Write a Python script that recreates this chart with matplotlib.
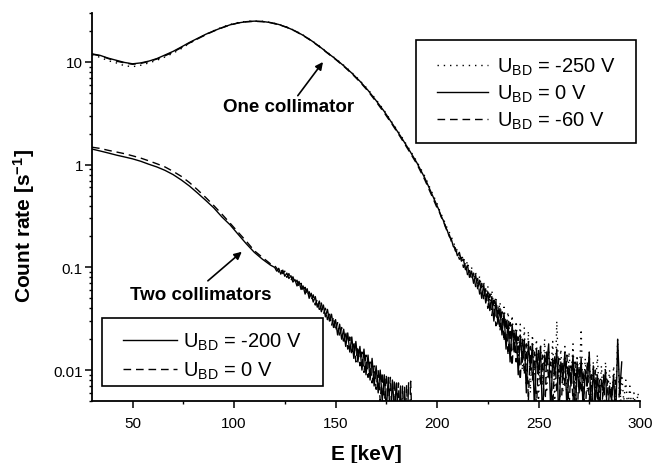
import matplotlib
matplotlib.use('Agg')
import matplotlib.pyplot as plt
import numpy as np
from matplotlib.patches import Rectangle
from matplotlib.ticker import FixedLocator, LogLocator, MultipleLocator, NullFormatter

plt.rcParams['font.family'] = ['Liberation Sans', 'DejaVu Sans']
plt.rcParams['mathtext.fontset'] = 'custom'
plt.rcParams['mathtext.rm'] = 'Liberation Sans'
plt.rcParams['mathtext.it'] = 'Liberation Sans:italic'
plt.rcParams['mathtext.bf'] = 'Liberation Sans:bold'

# energy channels (keV): coarse on the smooth part, 1 keV in the noisy tail
e_body_one = np.arange(30, 199, 4)
e_tail_one = np.arange(200, 301)
e_body_two = np.arange(30, 119, 4)
e_tail_two = np.arange(120, 189)

# ---- one collimator ----
one_0V_body = [12.0, 11.6, 10.9, 10.4, 9.9, 9.6, 9.8, 10.2, 10.8, 11.7,
               12.7, 14.0, 15.5, 17.0, 18.6, 20.1, 21.6, 23.0, 24.0, 24.7,
               25.0, 24.8, 24.2, 23.2, 21.8, 20.1, 18.2, 16.2, 14.2, 12.3,
               10.7, 9.2, 7.8, 6.5, 5.3, 4.2, 3.3, 2.5, 1.9, 1.42,
               1.05, 0.74, 0.49]
one_0V_tail = [0.40, 0.36, 0.31, 0.29, 0.25, 0.23, 0.20, 0.19, 0.16, 0.155,
               0.13, 0.14, 0.115, 0.12, 0.095, 0.105, 0.08, 0.092, 0.07, 0.085,
               0.062, 0.075, 0.05, 0.068, 0.045, 0.058, 0.038, 0.052, 0.03, 0.047,
               0.028, 0.04, 0.022, 0.036, 0.016, 0.03, 0.012, 0.028, 0.015, 0.024,
               0.009, 0.022, 0.012, 0.02, 0.006, 0.019, 0.01, 0.018, 0.004, 0.016,
               0.009, 0.017, 0.003, 0.014, 0.011, 0.018, 0.004, 0.013, 0.009, 0.016,
               0.003, 0.012, 0.008, 0.015, 0.004, 0.011, 0.007, 0.014, 0.003, 0.012,
               0.006, 0.013, 0.004, 0.01, 0.007, 0.015, 0.003, 0.011, 0.005, 0.009,
               0.004, 0.008, 0.006, 0.01, 0.003, 0.007, 0.005, 0.009, 0.003, 0.02,
               0.006, 0.012]

one_60V_body = [11.9, 11.5, 10.8, 10.2, 9.8, 9.5, 9.7, 10.1, 10.7, 11.5,
                12.5, 13.8, 15.3, 16.8, 18.4, 20.0, 21.5, 22.9, 24.0, 24.6,
                24.9, 24.7, 24.1, 23.1, 21.7, 20.0, 18.1, 16.1, 14.1, 12.2,
                10.6, 9.1, 7.7, 6.4, 5.2, 4.1, 3.2, 2.45, 1.85, 1.38,
                1.02, 0.71, 0.47]
one_60V_tail = [0.38, 0.35, 0.32, 0.28, 0.26, 0.22, 0.21, 0.18, 0.17, 0.145,
                0.14, 0.12, 0.125, 0.1, 0.11, 0.085, 0.095, 0.075, 0.088, 0.065,
                0.078, 0.055, 0.07, 0.048, 0.062, 0.04, 0.055, 0.034, 0.048, 0.027,
                0.042, 0.024, 0.037, 0.019, 0.032, 0.014, 0.029, 0.011, 0.025, 0.012,
                0.021, 0.008, 0.02, 0.009, 0.018, 0.005, 0.017, 0.008, 0.015, 0.004,
                0.016, 0.007, 0.014, 0.003, 0.015, 0.008, 0.012, 0.004, 0.014, 0.006,
                0.013, 0.003, 0.012, 0.007, 0.014, 0.004, 0.011, 0.005, 0.012, 0.003,
                0.011, 0.006, 0.01, 0.003, 0.012, 0.005, 0.009, 0.003, 0.01, 0.005,
                0.008, 0.003, 0.009, 0.004, 0.008, 0.003, 0.007, 0.004, 0.008, 0.003,
                0.007, 0.004]

one_250V_body = [11.7, 11.1, 10.3, 9.8, 9.2, 9.0, 9.3, 9.8, 10.4, 11.2,
                 12.2, 13.5, 15.2, 16.8, 18.5, 20.2, 21.8, 23.2, 24.2, 24.9,
                 25.1, 24.9, 24.3, 23.3, 21.9, 20.2, 18.3, 16.3, 14.3, 12.4,
                 10.8, 9.3, 7.9, 6.6, 5.4, 4.3, 3.35, 2.55, 1.95, 1.45,
                 1.08, 0.77, 0.51]
one_250V_tail = [0.42, 0.37, 0.33, 0.3, 0.27, 0.24, 0.22, 0.2, 0.175, 0.16,
                 0.145, 0.13, 0.12, 0.13, 0.1, 0.115, 0.09, 0.1, 0.078, 0.09,
                 0.068, 0.082, 0.06, 0.072, 0.052, 0.066, 0.045, 0.06, 0.04, 0.052,
                 0.034, 0.046, 0.03, 0.041, 0.025, 0.037, 0.02, 0.034, 0.016, 0.03,
                 0.013, 0.028, 0.01, 0.026, 0.007, 0.024, 0.006, 0.022, 0.009, 0.02,
                 0.005, 0.018, 0.007, 0.02, 0.006, 0.016, 0.009, 0.019, 0.005, 0.03,
                 0.008, 0.016, 0.006, 0.017, 0.005, 0.015, 0.008, 0.018, 0.005, 0.014,
                 0.007, 0.025, 0.005, 0.013, 0.006, 0.015, 0.004, 0.012, 0.006, 0.014,
                 0.005, 0.011, 0.004, 0.012, 0.006, 0.01, 0.004, 0.011, 0.005, 0.02,
                 0.004, 0.009, 0.005, 0.008, 0.004, 0.007, 0.004, 0.006, 0.004, 0.006,
                 0.004]

# ---- two collimators ----
two_200V_body = [1.42, 1.36, 1.30, 1.24, 1.19, 1.14, 1.08, 1.01, 0.95, 0.88,
                 0.80, 0.71, 0.62, 0.53, 0.45, 0.38, 0.31, 0.26, 0.21, 0.17,
                 0.14, 0.12, 0.105]
two_200V_tail = [0.100, 0.092, 0.098, 0.086, 0.094, 0.082, 0.088, 0.078, 0.083, 0.072,
                 0.076, 0.066, 0.073, 0.061, 0.066, 0.055, 0.062, 0.05, 0.056, 0.046,
                 0.052, 0.041, 0.047, 0.037, 0.043, 0.033, 0.039, 0.03, 0.035, 0.026,
                 0.031, 0.022, 0.028, 0.02, 0.025, 0.017, 0.023, 0.015, 0.021, 0.013,
                 0.019, 0.012, 0.017, 0.01, 0.016, 0.009, 0.014, 0.008, 0.013, 0.007,
                 0.011, 0.006, 0.01, 0.005, 0.009, 0.004, 0.0085, 0.003, 0.008, 0.004,
                 0.0075, 0.003, 0.007, 0.002, 0.0068, 0.002, 0.0075]

two_0V_body = [1.48, 1.44, 1.38, 1.33, 1.28, 1.22, 1.16, 1.09, 1.02, 0.95,
               0.86, 0.77, 0.67, 0.57, 0.48, 0.40, 0.33, 0.27, 0.22, 0.18,
               0.145, 0.125, 0.108]
two_0V_tail = [0.104, 0.098, 0.09, 0.097, 0.087, 0.092, 0.08, 0.087, 0.075, 0.081,
               0.07, 0.075, 0.064, 0.07, 0.058, 0.064, 0.053, 0.058, 0.048, 0.054,
               0.043, 0.049, 0.039, 0.045, 0.035, 0.04, 0.031, 0.036, 0.027, 0.033,
               0.024, 0.029, 0.021, 0.026, 0.018, 0.024, 0.016, 0.021, 0.014, 0.019,
               0.012, 0.017, 0.011, 0.015, 0.0095, 0.014, 0.0085, 0.012, 0.0075, 0.011,
               0.0065, 0.01, 0.005, 0.0095, 0.0045, 0.009, 0.004, 0.0085, 0.003, 0.008,
               0.0035, 0.0075, 0.002, 0.007, 0.002, 0.0072, 0.002, 0.0078, 0.002]

labels_one = [r'U$_{\mathrm{BD}}$ = -250 V', r'U$_{\mathrm{BD}}$ = 0 V', r'U$_{\mathrm{BD}}$ = -60 V']
labels_two = [r'U$_{\mathrm{BD}}$ = -200 V', r'U$_{\mathrm{BD}}$ = 0 V']

DOTTED = (0, (1.0, 3.5))
DASHED = (0, (5.5, 3.5))


def series(e_body, e_tail, body, tail):
    x = np.concatenate([e_body, e_tail[:len(tail)]])
    y = np.concatenate([body, tail])
    return x, y


fig = plt.figure(figsize=(6.53, 4.64), dpi=100)
ax = fig.add_axes([92 / 653, 62 / 464, 548 / 653, 388 / 464])

h_one = []
for body, tail, ls in [(one_250V_body, one_250V_tail, DOTTED),
                       (one_0V_body, one_0V_tail, '-'),
                       (one_60V_body, one_60V_tail, DASHED)]:
    x, y = series(e_body_one, e_tail_one, body, tail)
    ln, = ax.plot(x, y, color='black', lw=1.0, ls=ls)
    h_one.append(ln)

h_two = []
for body, tail, ls in [(two_200V_body, two_200V_tail, '-'),
                       (two_0V_body, two_0V_tail, DASHED)]:
    x, y = series(e_body_two, e_tail_two, body, tail)
    ln, = ax.plot(x, y, color='black', lw=1.0, ls=ls)
    h_two.append(ln)

ax.set_yscale('log')
ax.set_xlim(30, 300)
ax.set_ylim(0.005, 30)

ax.xaxis.set_major_locator(FixedLocator([50, 100, 150, 200, 250, 300]))
ax.xaxis.set_minor_locator(MultipleLocator(25))
ax.yaxis.set_major_locator(FixedLocator([0.01, 0.1, 1, 10]))
ax.set_yticklabels(['0.01', '0.1', '1', '10'])
ax.yaxis.set_minor_locator(LogLocator(base=10, subs=np.arange(2, 10)))
ax.yaxis.set_minor_formatter(NullFormatter())

for s in ['top', 'right']:
    ax.spines[s].set_visible(False)
for s in ['left', 'bottom']:
    ax.spines[s].set_linewidth(1.3)
ax.tick_params(which='major', direction='out', length=5, width=1.1, labelsize=11)
ax.tick_params(which='minor', direction='out', length=2.5, width=1.0)
ax.tick_params(axis='x', which='major', pad=6)
ax.tick_params(axis='y', which='major', pad=1.5)

ax.set_xlabel('E [keV]', fontsize=15, fontweight='bold', labelpad=10)
ax.set_ylabel(r'Count rate [s$^{\mathbf{-1}}$]', fontsize=15, fontweight='bold')
ax.yaxis.set_label_coords(-0.100, 0.454)

arrow = dict(arrowstyle='-|>', color='black', lw=1.2, mutation_scale=11, shrinkA=0, shrinkB=0)
ax.text(127, 3.7, 'One collimator', fontsize=13.5, fontweight='bold', ha='center', va='center')
ax.annotate('', xy=(143.8, 10.0), xytext=(131.4, 4.7), arrowprops=arrow)
ax.text(83.6, 0.055, 'Two collimators', fontsize=13.5, fontweight='bold', ha='center', va='center')
ax.annotate('', xy=(103.8, 0.142), xytext=(87.1, 0.074), arrowprops=arrow)

# legend boxes drawn as plain rectangles, entries placed inside without frame
for x0, y0, w, h in [(0.591, 0.665, 0.401, 0.265), (0.018, 0.039, 0.403, 0.175)]:
    ax.add_patch(Rectangle((x0, y0), w, h, transform=ax.transAxes, facecolor='white',
                           edgecolor='black', lw=1.2, zorder=4, clip_on=False))

leg_kw = dict(fontsize=14.5, frameon=False, borderpad=0, borderaxespad=0, loc='center left')
leg1 = ax.legend(h_one, labels_one, bbox_to_anchor=(0.630, 0.792), labelspacing=0.29,
                 handlelength=2.53, handletextpad=0.45, **leg_kw)
leg1.set_zorder(5)
ax.add_artist(leg1)
leg2 = ax.legend(h_two, labels_two, bbox_to_anchor=(0.0566, 0.116), labelspacing=0.4,
                 handlelength=2.68, handletextpad=0.3, **leg_kw)
leg2.set_zorder(5)

fig.savefig('out.png', dpi=100)
